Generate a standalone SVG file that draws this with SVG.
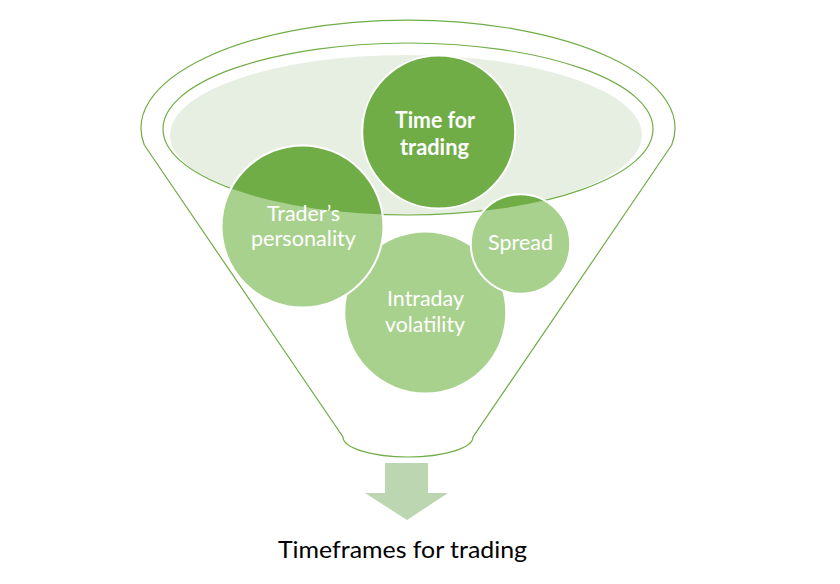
<svg xmlns="http://www.w3.org/2000/svg" width="840" height="584" viewBox="0 0 840 584">
  <style>
    .outline{fill:none;stroke:#70AD47;stroke-width:1.2}
    .light{fill:#A9D18E}
    .dark{fill:#70AD47}
    .ring{fill:none;stroke:#FFFFFF;stroke-width:2}
    .lbl{font-family:Lato,"Open Sans","Liberation Sans",sans-serif;fill:#FFFFFF;font-size:21px;text-anchor:middle}
    .bold{font-weight:bold;font-size:22px}
    .out{font-family:Lato,"Open Sans","Liberation Sans",sans-serif;fill:#000000;font-size:24px;text-anchor:middle}
  </style>
  <defs>
    <clipPath id="bowl">
      <ellipse cx="408" cy="129" rx="245" ry="86"/>
    </clipPath>
  </defs>
  <rect width="840" height="584" fill="#FFFFFF"/>
  <g id="funnel">
    <path class="outline" d="M 144.3 145 A 267 108 0 1 1 671.7 145 L 473 437 A 65 20 0 0 1 343 437 Z"/>
    <ellipse cx="406" cy="135" rx="236" ry="80" fill="#E7EFE2"/>
    <ellipse class="outline" cx="408" cy="129" rx="245" ry="86"/>
  </g>
  <g id="node-intraday">
    <circle class="light" cx="425.3" cy="312.5" r="81"/>
    <circle class="dark" cx="425.3" cy="312.5" r="81" clip-path="url(#bowl)"/>
    <circle class="ring" cx="425.3" cy="312.5" r="81"/>
    <text class="lbl" x="425.5" y="306" textLength="77" lengthAdjust="spacingAndGlyphs">Intraday</text>
    <text class="lbl" x="425" y="332" textLength="80" lengthAdjust="spacingAndGlyphs">volatility</text>
  </g>
  <g id="node-trader">
    <circle class="light" cx="302.5" cy="226.5" r="81"/>
    <circle class="dark" cx="302.5" cy="226.5" r="81" clip-path="url(#bowl)"/>
    <circle class="ring" cx="302.5" cy="226.5" r="81"/>
    <text class="lbl" x="303.5" y="221" textLength="73" lengthAdjust="spacingAndGlyphs">Trader’s</text>
    <text class="lbl" x="303.5" y="246" textLength="105" lengthAdjust="spacingAndGlyphs">personality</text>
  </g>
  <g id="node-spread">
    <circle class="light" cx="520.5" cy="244" r="49.7"/>
    <circle class="dark" cx="520.5" cy="244" r="49.7" clip-path="url(#bowl)"/>
    <circle class="ring" cx="520.5" cy="244" r="49.7"/>
    <text class="lbl" x="520.5" y="250" textLength="65" lengthAdjust="spacingAndGlyphs">Spread</text>
  </g>
  <g id="node-time">
    <circle class="light" cx="438.7" cy="132" r="76.5"/>
    <circle class="dark" cx="438.7" cy="132" r="76.5" clip-path="url(#bowl)"/>
    <circle class="ring" cx="438.7" cy="132" r="76.5"/>
    <text class="lbl bold" x="435" y="127.7" textLength="80" lengthAdjust="spacingAndGlyphs">Time for</text>
    <text class="lbl bold" x="434.5" y="155" textLength="69" lengthAdjust="spacingAndGlyphs">trading</text>
  </g>
  <g id="connectors">
    <polygon points="385,463 428,463 428,493 448,493 407,520 365,493 385,493" fill="#BDD6B2"/>
  </g>
  <g id="node-result">
    <text class="out" x="402.5" y="558" textLength="249" lengthAdjust="spacingAndGlyphs">Timeframes for trading</text>
  </g>
</svg>
